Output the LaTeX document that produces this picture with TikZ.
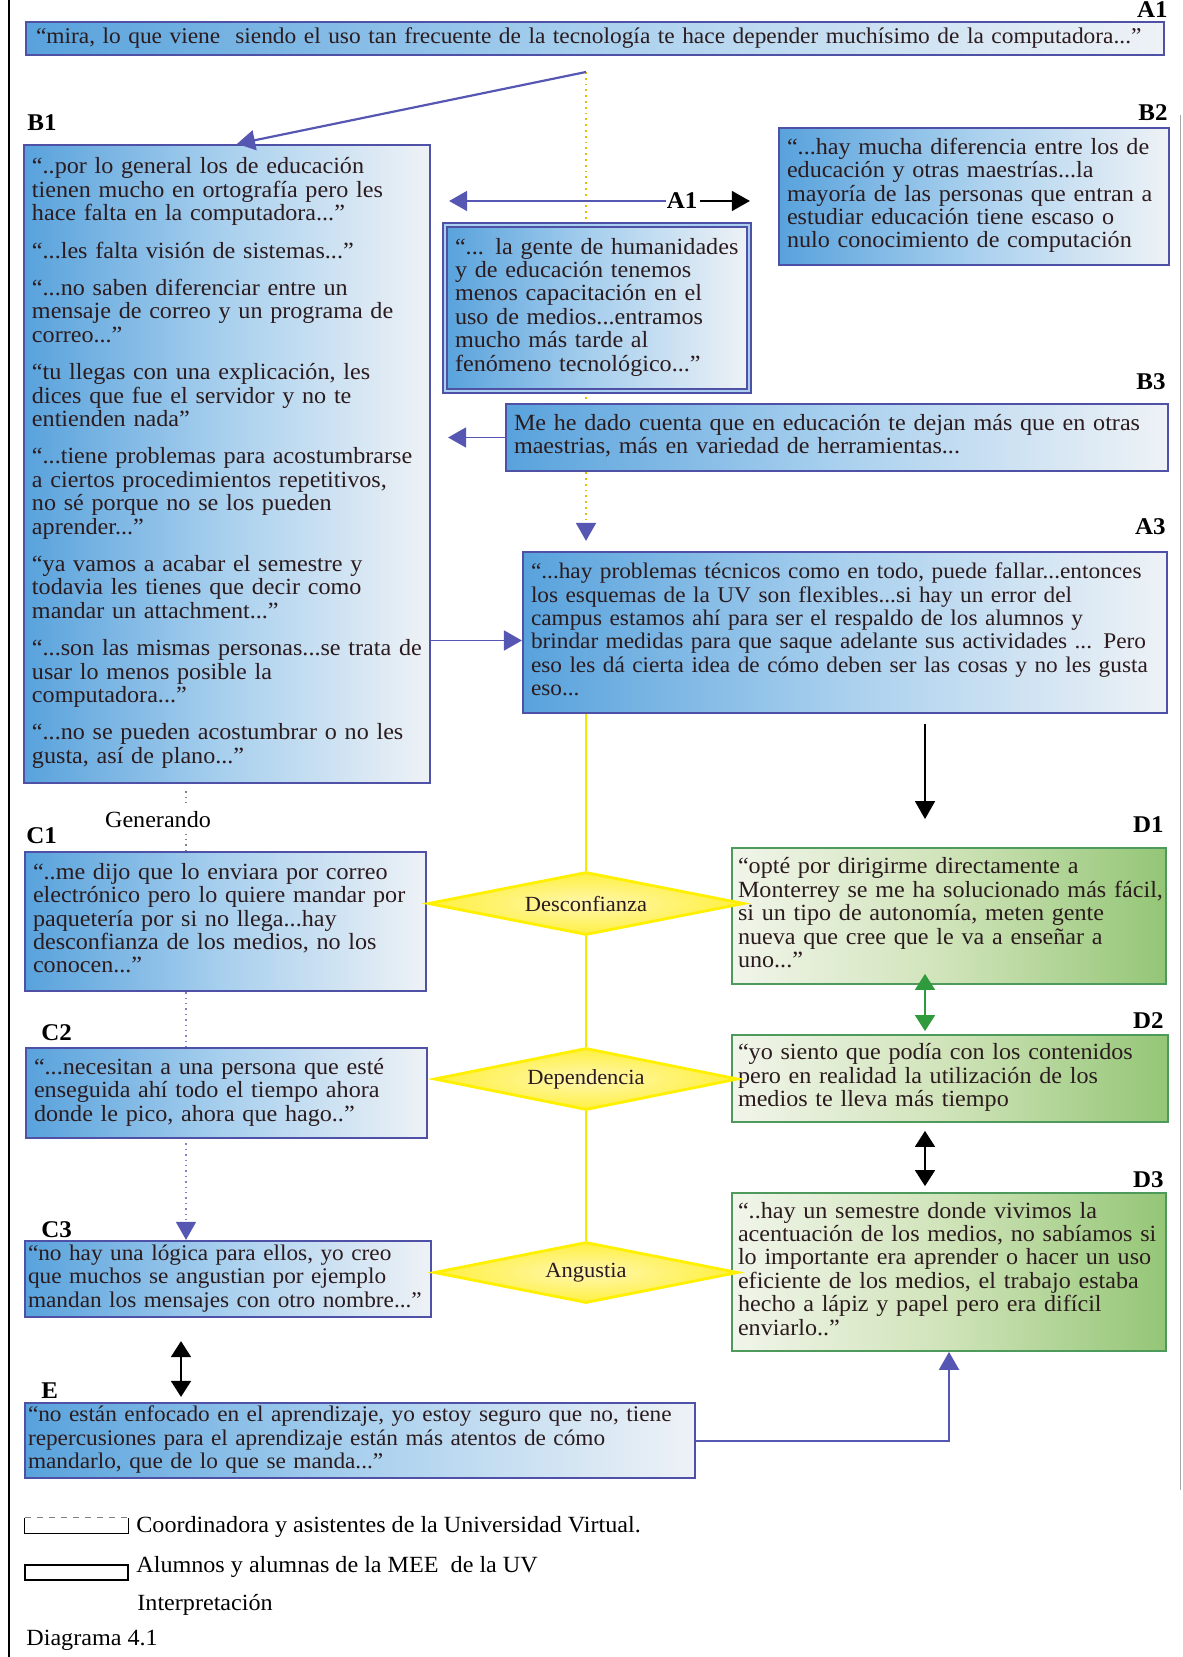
\documentclass[tikz,border=0pt]{standalone}
\usepackage{fontspec}
\setmainfont{Liberation Serif}[FakeStretch=1.04]
\usetikzlibrary{arrows.meta,shapes.geometric,backgrounds}

\definecolor{frameblue}{HTML}{4F51A6}
\definecolor{linkblue}{HTML}{5557B3}
\definecolor{skyleft}{HTML}{58A2DC}
\definecolor{skymid}{HTML}{A9D0EE}
\definecolor{skyright}{HTML}{EEF2F6}
\definecolor{greenframe}{HTML}{4E9A5C}
\definecolor{greenleft}{HTML}{F1F5EA}
\definecolor{greenmid}{HTML}{CFE3B8}
\definecolor{greenright}{HTML}{94C676}
\definecolor{ink}{HTML}{2B1B1E}
\definecolor{rayyellow}{HTML}{F4E800}
\definecolor{dotyellow}{HTML}{D9C300}
\definecolor{gemcore}{HTML}{FFF7B0}
\definecolor{gemrim}{HTML}{FFF040}
\definecolor{gemedge}{HTML}{FFF000}
\definecolor{tipgreen}{HTML}{2F9B3C}

\newcommand{\qfont}{\fontsize{11.6}{11.7}\selectfont}
\newcommand{\widefont}{\fontsize{11.25}{11.7}\selectfont}
\newcommand{\snugfont}{\fontsize{11.2}{11.7}\selectfont}
\newcommand{\tagfont}{\fontsize{12}{12}\selectfont\bfseries}
\newcommand{\gemfont}{\fontsize{10.8}{12}\selectfont}
\newcommand{\notefont}{\fontsize{11.6}{13}\selectfont}
\newcommand{\qlines}[1]{\begin{tabular}{@{}l@{}}#1\end{tabular}}

\tikzset{
  bluebox/.style={draw=frameblue, line width=1.1pt, left color=skyleft, right color=skyright, middle color=skymid, inner xsep=4pt, inner ysep=1pt, text=ink, align=left, font=\qfont},
  twinbox/.style={bluebox, line width=0.7pt, double=skymid, double distance=1.3pt},
  greenbox/.style={draw=greenframe, line width=0.9pt, left color=greenleft, right color=greenright, middle color=greenmid, inner xsep=3pt, inner ysep=1pt, text=ink, align=left, font=\qfont},
  gem/.style={diamond, shape aspect=5, inner sep=0pt, draw=gemedge, line width=1.4pt, inner color=gemcore, outer color=gemrim, text=ink, font=\gemfont},
  tag/.style={font=\tagfont, text=black, inner sep=0pt},
  note/.style={font=\notefont, text=black, inner sep=0pt, anchor=west},
  link/.style={draw=linkblue, line width=1.1pt, -{Triangle[width=10pt,length=9pt]}},
  blacklink/.style={draw=black, line width=0.7pt, -{Triangle[width=10pt,length=9pt]}},
  twoway/.style={line width=0.9pt, {Triangle[width=10pt,length=8pt]}-{Triangle[width=10pt,length=8pt]}},
  axisline/.style={draw=dotyellow, line width=0.9pt, dotted},
  spine/.style={draw=rayyellow, line width=1.1pt},
  trail/.style={draw=gray, line width=0.7pt, dotted},
}

\begin{document}
\begin{tikzpicture}[x=0.5pt,y=-0.5pt]
\useasboundingbox (0,0) rectangle (1182,1657);

% page rules
\draw[line width=1.3pt] (9,0) -- (9,1657);
\draw[gray!70, line width=0.5pt] (1180,115) -- (1180,1490);

% quotation boxes
\node[bluebox, font=\widefont, inner xsep=5pt, text width=559pt, minimum height=16.5pt] (a1) at (595,38.5) {\qlines{“mira, lo que viene~ siendo el uso tan frecuente de la tecnología te hace depender muchísimo de la computadora...”}};

\node[bluebox, text width=195pt, minimum height=319pt] (b1) at (227,464) {\qlines{%
“..por lo general los de educación\\
tienen mucho en ortografía pero les\\
hace falta en la computadora...”\\[7pt]
“...les falta visión de sistemas...”\\[7pt]
“...no saben diferenciar entre un\\
mensaje de correo y un programa de\\
correo...”\\[7pt]
“tu llegas con una explicación, les\\
dices que fue el servidor y no te\\
entienden nada”\\[7pt]
“...tiene problemas para acostumbrarse\\
a ciertos procedimientos repetitivos,\\
no sé porque no se los pueden\\
aprender...”\\[7pt]
“ya vamos a acabar el semestre y\\
todavia les tienes que decir como\\
mandar un attachment...”\\[7pt]
“...son las mismas personas...se trata de\\
usar lo menos posible la\\
computadora...”\\[7pt]
“...no se pueden acostumbrar o no les\\
gusta, así de plano...”}};

\node[bluebox, text width=187pt, minimum height=68.5pt] (b2) at (974,196.5) {\qlines{%
“...hay mucha diferencia entre los de\\
educación y otras maestrías...la\\
mayoría de las personas que entran a\\
estudiar educación tiene escaso o\\
nulo conocimiento de computación}};

\node[twinbox, inner xsep=5pt, text width=142pt, minimum height=83pt] (a2) at (597,308) {\qlines{%
“... la gente de humanidades\\
y de educación tenemos\\
menos capacitación en el\\
uso de medios...entramos\\
mucho más tarde al\\
fenómeno tecnológico...”}};

\node[bluebox, text width=323pt, minimum height=33.5pt] (b3) at (837,437.5) {\qlines{%
Me he dado cuenta que en educación te dejan más que en otras\\
maestrias, más en variedad de herramientas...}};

\node[bluebox, font=\snugfont, text width=314pt, minimum height=80.5pt] (a3) at (845,632.5) {\qlines{%
“...hay problemas técnicos como en todo, puede fallar...entonces\\
los esquemas de la UV son flexibles...si hay un error del\\
campus estamos ahí para ser el respaldo de los alumnos y\\
brindar medidas para que saque adelante sus actividades ... Pero\\
eso les dá cierta idea de cómo deben ser las cosas y no les gusta\\
eso...}};

\node[bluebox, text width=192.5pt, minimum height=69.5pt] (c1) at (225.5,921.5) {\qlines{%
“..me dijo que lo enviara por correo\\
electrónico pero lo quiere mandar por\\
paquetería por si no llega...hay\\
desconfianza de los medios, no los\\
conocen...”}};

\node[bluebox, text width=192.5pt, minimum height=45pt] (c2) at (226.5,1093) {\qlines{%
“...necesitan a una persona que esté\\
enseguida ahí todo el tiempo ahora\\
donde le pico, ahora que hago..”}};

\node[bluebox, font=\snugfont, inner xsep=1.5pt, text width=200pt, minimum height=38pt] (c3) at (228,1279) {\qlines{%
“no hay una lógica para ellos, yo creo\\
que muchos se angustian por ejemplo\\
mandan los mensajes con otro nombre...”}};

\node[greenbox, text width=211pt, minimum height=68pt] (d1) at (949,916) {\qlines{%
“opté por dirigirme directamente a\\
Monterrey se me ha solucionado más fácil,\\
si un tipo de autonomía, meten gente\\
nueva que cree que le va a enseñar a\\
uno...”}};

\node[greenbox, text width=212pt, minimum height=43.5pt] (d2) at (950,1078.5) {\qlines{%
“yo siento que podía con los contenidos\\
pero en realidad la utilización de los\\
medios te lleva más tiempo}};

\node[greenbox, text width=211pt, minimum height=79pt] (d3) at (949,1272) {\qlines{%
“..hay un semestre donde vivimos la\\
acentuación de los medios, no sabíamos si\\
lo importante era aprender o hacer un uso\\
eficiente de los medios, el trabajo estaba\\
hecho a lápiz y papel pero era difícil\\
enviarlo..”}};

\node[bluebox, font=\snugfont, inner xsep=1.5pt, text width=332pt, minimum height=37.5pt] (e) at (360,1440.5) {\qlines{%
“no están enfocado en el aprendizaje, yo estoy seguro que no, tiene\\
repercusiones para el aprendizaje están más atentos de cómo\\
mandarlo, que de lo que se manda...”}};

% interpretation diamonds
\node[gem, minimum width=158pt, minimum height=31.5pt] (des) at (586,903.5) {Desconfianza};
\node[gem, minimum width=152pt, minimum height=31pt] (dep) at (586,1079) {Dependencia};
\node[gem, minimum width=152pt, minimum height=30.5pt] (ang) at (586,1272.5) {Angustia};

% box tags
\node[tag, anchor=base east] (tA1) at (1168,18) {A1};
\node[tag, anchor=base west] (tB1) at (27,131) {B1};
\node[tag, anchor=base east] (tB2) at (1168,121) {B2};
\node[tag, anchor=base east] (tB3) at (1166,390) {B3};
\node[tag, anchor=base east] (tA3) at (1166,535) {A3};
\node[tag, anchor=base west] (tC1) at (26,843) {C1};
\node[tag, anchor=base east] (tD1) at (1164,832) {D1};
\node[tag, anchor=base west] (tC2) at (41,1040) {C2};
\node[tag, anchor=base east] (tD2) at (1164,1028) {D2};
\node[tag, anchor=base east] (tD3) at (1164,1187) {D3};
\node[tag, anchor=base west] (tC3) at (41,1237) {C3};
\node[tag, anchor=base west] (tE) at (41,1398) {E};
\node[tag] (a1mid) at (682,201) {A1};
\node[note, anchor=center] (gen) at (158,820) {Generando};

% helper coordinates
\coordinate (fork) at (586,72);
\coordinate (gx) at (186,0);
\coordinate (dx) at (925,0);
\coordinate (cx) at (181,0);

% connectors behind the boxes
\begin{scope}[on background layer]
  \draw[axisline, -{Triangle[width=10pt,length=9pt,color=linkblue]}, shorten >=5pt] (fork) -- (fork |- a3.north);
  \draw[trail, draw=linkblue!75, -{Triangle[width=10pt,length=9pt,color=linkblue]}] (c1.south -| gx) -- (c3.north -| gx);
\end{scope}

% connectors
\draw[link] (fork) -- ([xshift=5pt]b1.north);
\draw[link, line width=0.9pt, shorten >=9pt] (a1mid.west) -- (a1mid.west -| b1.east);
\draw[blacklink, shorten <=1pt, shorten >=14pt] (a1mid.east) -- (a1mid.east -| b2.west);
\draw[link, line width=0.9pt, shorten >=8.5pt] (b3.west) -- (b3.west -| b1.east);
\draw[link, line width=0.9pt] ([yshift=-4pt]a3.west -| b1.east) -- ([yshift=-4pt]a3.west);
\draw[spine] (a3.south -| des.north) -- (des.north);
\draw[spine] (des.south) -- (dep.north);
\draw[spine] (dep.south) -- (ang.north);
\draw[blacklink, shorten <=5pt, shorten >=14pt] (a3.south -| dx) -- (d1.north -| dx);
\draw[twoway, draw=tipgreen, fill=tipgreen] ([yshift=5.5pt]d1.south -| dx) -- ([yshift=1.5pt]d2.north -| dx);
\draw[twoway, shorten <=4pt, shorten >=3pt] (d2.south -| dx) -- (d3.north -| dx);
\draw[twoway, shorten <=11.5pt, shorten >=2.5pt] (c3.south -| cx) -- (e.north -| cx);
\draw[link, line width=1pt] (e.east) -| (d3.south);
\draw[trail] ([yshift=-3.5pt]b1.south -| gx) -- ([yshift=4.5pt]gen.north -| gx);
\draw[trail] ([yshift=-2.5pt]gen.south -| gx) -- (c1.north -| gx);

% legend
\node[inner sep=0pt, minimum width=51.5pt, minimum height=7.5pt] (key1) at (76.5,1525.5) {};
\draw[line width=0.7pt] (key1.north west) -- (key1.south west) -- (key1.south east) -- (key1.north east);
\draw[line width=0.6pt, dashed, gray] (key1.north west) -- (key1.north east);
\node[note] (lab1) at (136,1527) {Coordinadora y asistentes de la Universidad Virtual.};
\node[draw, line width=1.4pt, inner sep=0pt, minimum width=51.5pt, minimum height=7.5pt] (key2) at (76.5,1572.5) {};
\node[note] (lab2) at (136,1567) {Alumnos y alumnas de la MEE~ de la UV};
\node[note] (lab3) at (137,1605) {Interpretación};
\node[note] (lab4) at (26,1640) {Diagrama 4.1};
\end{tikzpicture}
\end{document}
